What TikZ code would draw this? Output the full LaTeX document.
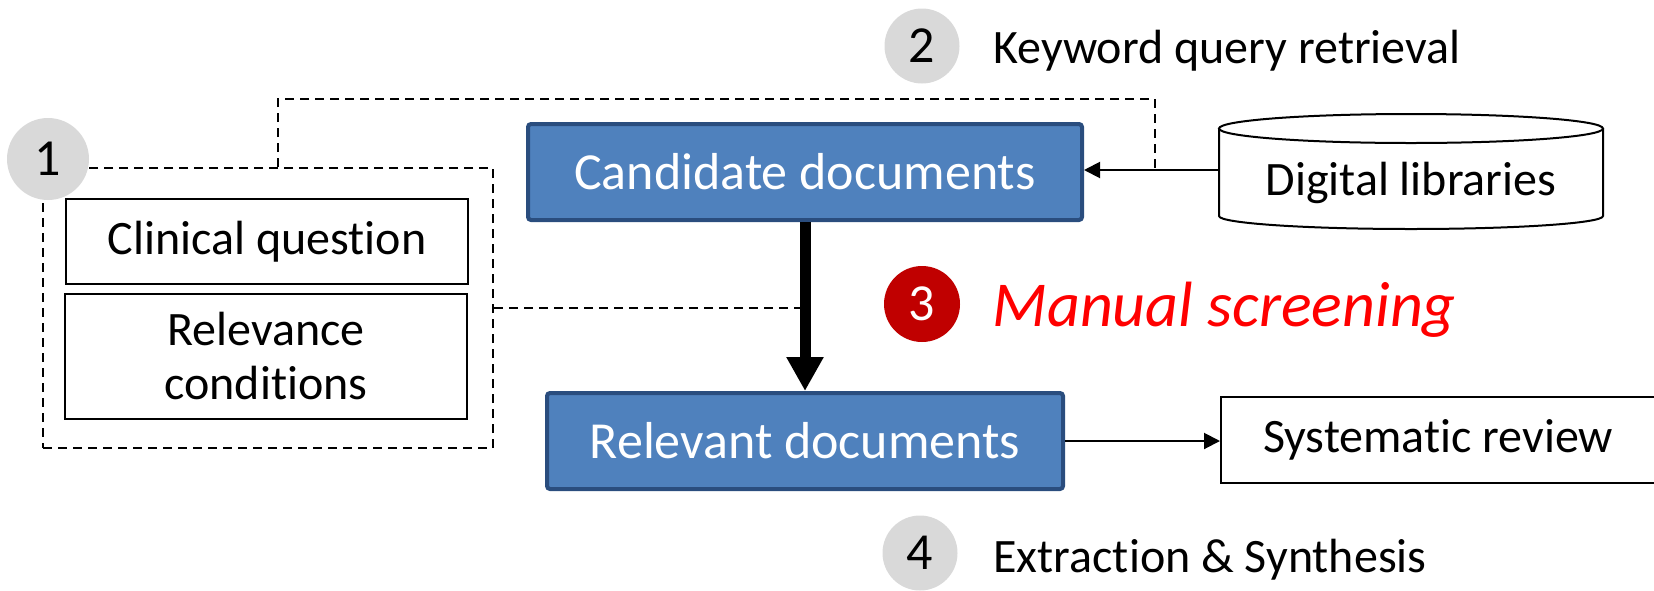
\documentclass[tikz,border=0pt]{standalone}
\usepackage{fontspec}
\setmainfont{Carlito}[Ligatures=NoCommon]
\usetikzlibrary{arrows.meta,calc}

\definecolor{boxblue}{HTML}{4F81BD}
\definecolor{boxblueedge}{HTML}{2A4D7E}
\definecolor{stepgray}{HTML}{D9D9D9}
\definecolor{stepred}{HTML}{C00000}
\definecolor{hilite}{HTML}{FF0000}

\tikzset{
  stepnum/.style={circle, fill=stepgray, inner sep=0pt, minimum size=37.5pt,
    font=\fontsize{26}{26}\selectfont},
  docbox/.style={rectangle, draw=boxblueedge, line width=2pt, fill=boxblue,
    rounded corners=1.5pt, text=white, minimum height=48pt, inner sep=0pt,
    font=\fontsize{26}{30}\selectfont},
  plainbox/.style={rectangle, draw=black, line width=1pt, fill=white, inner sep=0pt,
    font=\fontsize{24}{27}\selectfont, align=center},
  steplabel/.style={anchor=base west, inner sep=0pt, font=\fontsize{24}{28}\selectfont},
  dashline/.style={draw=black, line width=1pt, dash pattern=on 4.5pt off 3pt},
  thinarrow/.style={draw=black, line width=1pt, -{Triangle[width=8pt,length=8pt]}},
  thickarrow/.style={draw=black, line width=5.5pt, -{Triangle[width=17.5pt,length=17pt]}},
}

\begin{document}
\begin{tikzpicture}[x=0.5pt, y=-0.5pt]
  \useasboundingbox (0,0) rectangle (1654,590);

  % group of inputs (dashed frame)
  \node[dashline, rectangle, minimum width=225pt, minimum height=140pt, inner sep=0pt]
    (grp) at (268,308) {};
  \node[plainbox, minimum width=201pt, minimum height=42.5pt] (cq) at (267,241.5) {Clinical question};
  \node[plainbox, minimum width=201pt, minimum height=62.5pt] (rc) at (266,356.5) {Relevance\\conditions};
  \node[stepnum, minimum size=41pt] (s1) at (48,159) {1};

  % document boxes
  \node[docbox, minimum width=277pt] (cand) at (805,172) {Candidate documents};
  \node[docbox, minimum width=258pt] (rel) at (805,441) {Relevant documents};
  \node[plainbox, minimum width=217pt, minimum height=43pt] (sys) at (1438,440) {Systematic review};

  % database cylinder
  \draw[line width=1pt, fill=white]
    (1219,128.5) -- (1219,216) arc[start angle=180, end angle=0, x radius=192, y radius=13]
    -- (1603,128.5);
  \draw[line width=1pt, fill=white] (1411,128.5) ellipse[x radius=192, y radius=14.5];
  \node[inner sep=0pt, font=\fontsize{24}{28}\selectfont] (dl) at (1411,183) {Digital libraries};
  \coordinate (dlin) at (1219,170);

  % query path from the inputs to the retrieval step
  \coordinate (qtop) at (278,99);
  \coordinate (qdown) at (1155,99);
  \draw[dashline] (grp.north -| qtop) -- (qtop) -- (qdown) -- (qdown |- dlin);
  \draw[dashline] (grp.east) -- (grp.east -| cand.south);

  % connectors
  \draw[thinarrow] (dlin) -- (dlin -| cand.east);
  \draw[thickarrow] (cand.south) -- (rel.north);
  \draw[thinarrow] (rel.east) -- (rel.east -| sys.west);

  % numbered steps
  \node[stepnum] (s2) at (922,46) {2};
  \node[steplabel] (l2) at (993,63) {Keyword query retrieval};
  \node[stepnum, fill=stepred, text=white, minimum size=38pt] (s3) at (922,304) {3};
  \node[steplabel, text=hilite, font=\fontsize{32}{36}\selectfont\itshape] (l3) at (992,326) {Manual screening};
  \node[stepnum] (s4) at (920,553) {4};
  \node[steplabel] (l4) at (993,572) {Extraction \& Synthesis};
\end{tikzpicture}
\end{document}
